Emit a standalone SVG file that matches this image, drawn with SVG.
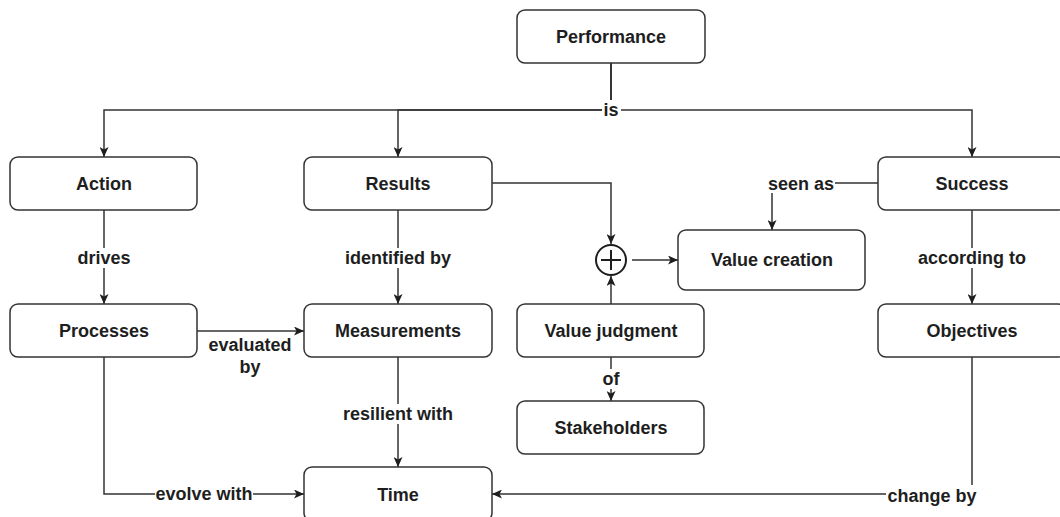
<svg xmlns="http://www.w3.org/2000/svg" width="1060" height="517" viewBox="0 0 1060 517">
<defs>
<style>
.box{fill:#fff;stroke:#333;stroke-width:1.5}
.t{font-family:"Liberation Sans",Arial,sans-serif;font-weight:bold;font-size:18px;fill:#1e1e1e;text-anchor:middle;dominant-baseline:central}
.e{fill:none;stroke:#333;stroke-width:1.5}
.bg{fill:#fff}
</style>
<marker id="arr" viewBox="0 0 10 9" refX="10" refY="4.5" markerWidth="10" markerHeight="9" markerUnits="userSpaceOnUse" orient="auto">
<path d="M0,0 L10,4.5 L0,9 L2.5,4.5 z" fill="#1e1e1e"/>
</marker>
</defs>
<rect width="1060" height="517" fill="#fff"/>
<g id="connectors">
<path class="e" d="M611,63 V110 H104 V157" marker-end="url(#arr)"/>
<path class="e" d="M611,63 V110 H398 V157" marker-end="url(#arr)"/>
<path class="e" d="M611,63 V110 H972 V157" marker-end="url(#arr)"/>
<path class="e" d="M104,210 V304" marker-end="url(#arr)"/>
<path class="e" d="M398,210 V304" marker-end="url(#arr)"/>
<path class="e" d="M972,210 V304" marker-end="url(#arr)"/>
<path class="e" d="M197,331 H304" marker-end="url(#arr)"/>
<path class="e" d="M398,357 V467" marker-end="url(#arr)"/>
<path class="e" d="M104,357 V494 H304" marker-end="url(#arr)"/>
<path class="e" d="M972,357 V494 H492" marker-end="url(#arr)"/>
<path class="e" d="M492,183 H611 V244" marker-end="url(#arr)"/>
<path class="e" d="M611,304 V276" marker-end="url(#arr)"/>
<path class="e" d="M632,260 H678" marker-end="url(#arr)"/>
<path class="e" d="M878,183 H772 V230" marker-end="url(#arr)"/>
<path class="e" d="M611,357 V401" marker-end="url(#arr)"/>
<g id="labels">
<rect class="bg" x="602" y="100" width="19" height="20"/><text class="t" x="611" y="110">is</text>
<rect class="bg" x="76" y="248" width="56" height="20"/><text class="t" x="104" y="258">drives</text>
<rect class="bg" x="344" y="248" width="108" height="20"/><text class="t" x="398" y="258">identified by</text>
<rect class="bg" x="917" y="248" width="110" height="20"/><text class="t" x="972" y="258">according to</text>
<rect class="bg" x="207" y="335" width="86" height="42"/><text class="t" x="250" y="345">evaluated</text><text class="t" x="250" y="367">by</text>
<rect class="bg" x="342" y="404" width="112" height="20"/><text class="t" x="398" y="414">resilient with</text>
<rect class="bg" x="601" y="369" width="20" height="20"/><text class="t" x="611" y="379">of</text>
<rect class="bg" x="155" y="484" width="98" height="20"/><text class="t" x="204" y="494">evolve with</text>
<rect class="bg" x="886" y="485" width="92" height="20"/><text class="t" x="932" y="496">change by</text>
<rect class="bg" x="767" y="173" width="68" height="20"/><text class="t" x="801" y="184">seen as</text>
</g>
</g>
<g id="performance"><rect class="box" x="517" y="10" width="188" height="53" rx="8"/><text class="t" x="611" y="37">Performance</text></g>
<g id="action"><rect class="box" x="10" y="157" width="187" height="53" rx="8"/><text class="t" x="104" y="184">Action</text></g>
<g id="results"><rect class="box" x="304" y="157" width="188" height="53" rx="8"/><text class="t" x="398" y="184">Results</text></g>
<g id="success"><rect class="box" x="878" y="157" width="188" height="53" rx="8"/><text class="t" x="972" y="184">Success</text></g>
<g id="processes"><rect class="box" x="10" y="304" width="187" height="53" rx="8"/><text class="t" x="104" y="331">Processes</text></g>
<g id="measurements"><rect class="box" x="304" y="304" width="188" height="53" rx="8"/><text class="t" x="398" y="331">Measurements</text></g>
<g id="value-judgment"><rect class="box" x="517" y="304" width="187" height="53" rx="8"/><text class="t" x="611" y="331">Value judgment</text></g>
<g id="objectives"><rect class="box" x="878" y="304" width="188" height="53" rx="8"/><text class="t" x="972" y="331">Objectives</text></g>
<g id="stakeholders"><rect class="box" x="517" y="401" width="187" height="53" rx="8"/><text class="t" x="611" y="428">Stakeholders</text></g>
<g id="value-creation"><rect class="box" x="678" y="230" width="187" height="60" rx="8"/><text class="t" x="772" y="260">Value creation</text></g>
<g id="time"><rect class="box" x="304" y="467" width="188" height="54" rx="8"/><text class="t" x="398" y="495">Time</text></g>
<g id="sum"><circle cx="611" cy="260" r="15" fill="#fff" stroke="#1e1e1e" stroke-width="2"/><path d="M601,260 H621 M611,250 V270" stroke="#1e1e1e" stroke-width="2"/></g>
</svg>
